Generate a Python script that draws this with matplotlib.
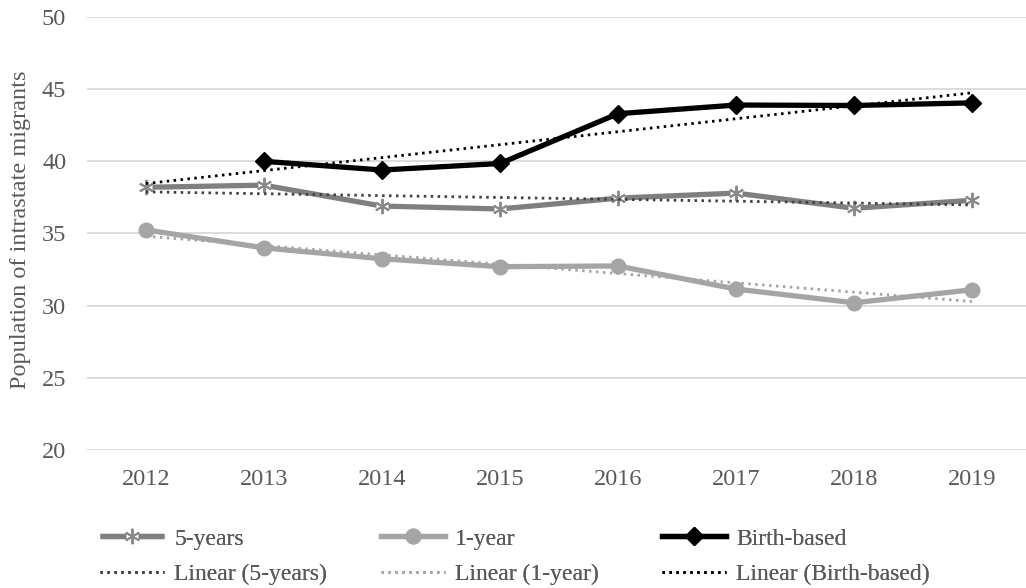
import numpy as np
import matplotlib
matplotlib.use('Agg')
import matplotlib.pyplot as plt
from matplotlib.legend_handler import HandlerTuple

# Dati: popolazione di migranti intrastatali per anno
years = [2012, 2013, 2014, 2015, 2016, 2017, 2018, 2019]
five_years = [38.2, 38.35, 36.9, 36.7, 37.45, 37.8, 36.75, 37.3]
one_year = [35.25, 34.0, 33.25, 32.7, 32.75, 31.15, 30.2, 31.1]
birth_based = [np.nan, 40.0, 39.4, 39.85, 43.3, 43.9, 43.87, 44.05]

plt.rcParams['font.family'] = ['Liberation Serif', 'DejaVu Serif']
TXT = '#595959'
FS = 17.5

fig = plt.figure(figsize=(10.26, 5.88), dpi=100)
ax = fig.add_axes([87 / 1026, 138 / 588, 944 / 1026, 433 / 588])

x = np.arange(len(years))

def trend(vals):
    # Retta di regressione sui soli punti validi, estesa a tutti gli anni
    v = np.array(vals, dtype=float)
    ok = ~np.isnan(v)
    m, q = np.polyfit(x[ok], v[ok], 1)
    return m * x + q

# Serie principali
l5, = ax.plot(x, five_years, color='#7f7f7f', lw=3.8, zorder=3, solid_capstyle='butt')
w5, = ax.plot(x, five_years, ls='none', marker='s', ms=8, mfc='white', mec='none', zorder=3.1)
s5, = ax.plot(x, five_years, ls='none', marker=(6, 2, 0), ms=11, mec='#8a8a8a', mew=1.4, zorder=3.2)

l1, = ax.plot(x, one_year, color='#a5a5a5', lw=3.8, marker='o', ms=10.5,
              mfc='#a5a5a5', mec='#a5a5a5', zorder=4)

lb, = ax.plot(x, birth_based, color='black', lw=3.8, marker='D', ms=9,
              mfc='black', mec='black', zorder=5)

# Linee di tendenza lineari
dots = (0, (0.9, 1.6))
t5, = ax.plot(x, trend(five_years), color='#404040', lw=2.0, ls=dots, zorder=6)
t1, = ax.plot(x, trend(one_year), color='#a5a5a5', lw=2.0, ls=dots, zorder=6)
tb, = ax.plot(x, trend(birth_based), color='black', lw=2.0, ls=dots, zorder=6)

ax.set_xlim(-0.5, len(years) - 0.5)
ax.set_ylim(20, 50)
ax.set_yticks(range(20, 51, 5))
ax.set_xticks(x)
ax.set_xticklabels([str(y) for y in years])
ax.grid(axis='y', color='#d9d9d9', lw=1.3)
ax.set_axisbelow(True)
for s in ax.spines.values():
    s.set_visible(False)
ax.tick_params(length=0, labelsize=FS, labelcolor=TXT)
ax.tick_params(axis='y', pad=15)
ax.tick_params(axis='x', pad=14)

fig.text(21 / 1026, 1 - 230 / 588, 'Population of intrastate migrants', rotation=90,
         ha='center', va='center', fontsize=FS, color=TXT)

# Legenda: tre colonne equidistanti, serie sopra e tendenza sotto
cols = [
    ([(l5, w5, s5), t5], ['5-years', 'Linear (5-years)']),
    ([l1, t1], ['1-year', 'Linear (1-year)']),
    ([lb, tb], ['Birth-based', 'Linear (Birth-based)']),
]
for i, (handles, labels) in enumerate(cols):
    leg = fig.legend(handles, labels, loc='upper left',
                     bbox_to_anchor=((100 + 281 * i) / 1026, 1 - 528 / 588),
                     frameon=False, fontsize=17, labelcolor=TXT,
                     handlelength=2.7, handletextpad=0.45, labelspacing=0.6,
                     borderpad=0, borderaxespad=0,
                     handler_map={tuple: HandlerTuple(ndivide=1, pad=0)})
    fig.add_artist(leg)

fig.savefig('out.png', dpi=100)
